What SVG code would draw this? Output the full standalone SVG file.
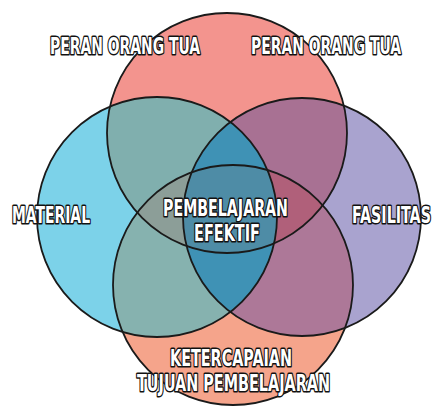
<svg xmlns="http://www.w3.org/2000/svg" width="435" height="407" viewBox="0 0 435 407">
<style>
.o{fill:none;stroke:#1a1a1a;stroke-width:1.8}
.t{font-family:"DejaVu Sans Condensed","DejaVu Sans","Liberation Sans",sans-serif;font-weight:bold;font-size:22.5px;fill:#ffffff;stroke:#111111;stroke-width:3;stroke-linejoin:round;paint-order:stroke fill}
</style>
<defs>
<circle id="T" cx="227" cy="133" r="120"/>
<circle id="B" cx="233" cy="285" r="120"/>
<circle id="L" cx="157" cy="217" r="120"/>
<circle id="R" cx="302" cy="217" r="119"/>
<clipPath id="cT"><use href="#T"/></clipPath>
<clipPath id="cB"><use href="#B"/></clipPath>
<clipPath id="cL"><use href="#L"/></clipPath>
<clipPath id="cR"><use href="#R"/></clipPath>
</defs>
<rect width="435" height="407" fill="#ffffff"/>
<g id="regions">
<use href="#T" fill="#F3948E"/>
<use href="#B" fill="#F5A48B"/>
<use href="#L" fill="#7CD2E9"/>
<use href="#R" fill="#A9A3CF"/>
<g clip-path="url(#cT)"><use href="#L" fill="#80AFAE"/><use href="#R" fill="#A87193"/></g>
<g clip-path="url(#cB)"><use href="#L" fill="#86B2AF"/><use href="#R" fill="#AD7898"/></g>
<g clip-path="url(#cL)"><use href="#R" fill="#3F92B5"/></g>
<g clip-path="url(#cT)"><g clip-path="url(#cB)"><use href="#L" fill="#8C9E98"/><use href="#R" fill="#B0607A"/><g clip-path="url(#cL)"><use href="#R" fill="#4E8CA6"/></g></g></g>
</g>
<g id="connectors"></g>
<g id="node-top"><use href="#T" class="o"/></g>
<g id="node-left"><use href="#L" class="o"/></g>
<g id="node-right"><use href="#R" class="o"/></g>
<g id="node-bottom"><use href="#B" class="o"/></g>
<g id="labels">
<text class="t" x="50" y="54" textLength="150" lengthAdjust="spacingAndGlyphs">PERAN ORANG TUA</text>
<text class="t" x="251" y="54" textLength="150" lengthAdjust="spacingAndGlyphs">PERAN ORANG TUA</text>
<text class="t" x="12" y="223" textLength="78" lengthAdjust="spacingAndGlyphs">MATERIAL</text>
<text class="t" x="352" y="223" textLength="79" lengthAdjust="spacingAndGlyphs">FASILITAS</text>
<text class="t" x="170" y="366" textLength="122" lengthAdjust="spacingAndGlyphs">KETERCAPAIAN</text>
<text class="t" x="137" y="391" textLength="193" lengthAdjust="spacingAndGlyphs">TUJUAN PEMBELAJARAN</text>
<text class="t" x="163" y="216" textLength="125" lengthAdjust="spacingAndGlyphs">PEMBELAJARAN</text>
<text class="t" x="194" y="241" textLength="66" lengthAdjust="spacingAndGlyphs">EFEKTIF</text>
</g>
</svg>
